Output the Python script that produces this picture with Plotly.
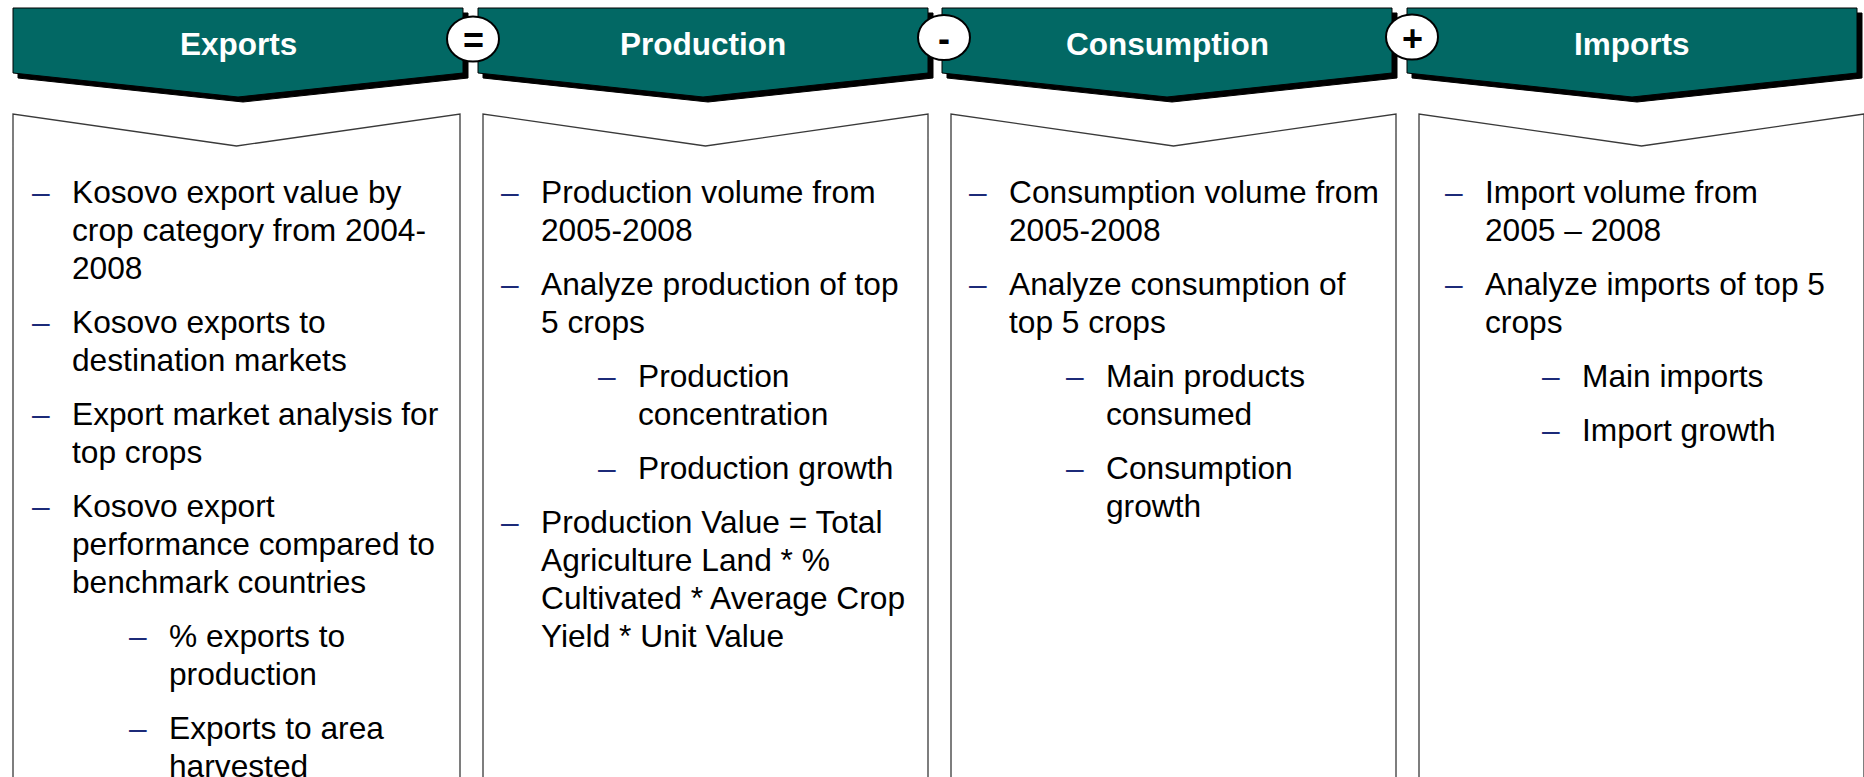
import plotly.graph_objects as go

# ---------------- content ----------------
headers = ["Exports", "Production", "Consumption", "Imports"]
operators = ["=", "-", "+"]

exports_items = [
    (0, ["Kosovo export value by", "crop category from 2004-", "2008"]),
    (0, ["Kosovo exports to", "destination markets"]),
    (0, ["Export market analysis for", "top crops"]),
    (0, ["Kosovo export", "performance compared to", "benchmark countries"]),
    (1, ["% exports to", "production"]),
    (1, ["Exports to area", "harvested"]),
]
production_items = [
    (0, ["Production volume from", "2005-2008"]),
    (0, ["Analyze production of top", "5 crops"]),
    (1, ["Production", "concentration"]),
    (1, ["Production growth"]),
    (0, ["Production Value = Total", "Agriculture Land * %", "Cultivated * Average Crop", "Yield * Unit Value"]),
]
consumption_items = [
    (0, ["Consumption volume from", "2005-2008"]),
    (0, ["Analyze consumption of", "top 5 crops"]),
    (1, ["Main products", "consumed"]),
    (1, ["Consumption", "growth"]),
]
imports_items = [
    (0, ["Import volume from", "2005 \u2013 2008"]),
    (0, ["Analyze imports of top 5", "crops"]),
    (1, ["Main imports"]),
    (1, ["Import growth"]),
]
columns = [exports_items, production_items, consumption_items, imports_items]

# ---------------- geometry / style ----------------
W, H = 1864, 777
TEAL = "#026864"
NAVY = "#1c2a78"
FONT = "Liberation Sans, Arial, Helvetica, sans-serif"

banner_left = [13, 478, 942, 1407]
banner_w = 450
banner_top, banner_side, banner_tip = 8, 73, 97
shadow = 5

box_left = [13, 483, 951, 1419]
box_right = [460, 928, 1396, 1864]
box_top, box_notch = 114, 146

circle_c = [(473, 39), (944, 37.5), (1412, 37)]
circle_rx, circle_ry = 26, 22.5

text_x = [70, 539, 1007, 1483]
dash_off = 40
sub_indent = 97
first_base = 202.5
line_step = 38.1
item_step = 54
body_size = 31.7
head_size = 31.5
op_size = 36

fig = go.Figure()
fig.add_trace(go.Scatter(x=[0, W], y=[0, H], mode="markers",
                         marker=dict(opacity=0), hoverinfo="skip", showlegend=False))

shapes = []
annotations = []


def poly(pts, closed=True):
    d = "M " + " L ".join(f"{x},{y}" for x, y in pts)
    return d + (" Z" if closed else "")


# banners
for i, name in enumerate(headers):
    L = banner_left[i]
    R = L + banner_w
    cx = (L + R) / 2
    pts = [(L, banner_top), (R, banner_top), (R, banner_side), (cx, banner_tip), (L, banner_side)]
    sh = [(x + shadow, y + shadow) for x, y in pts]
    shapes.append(dict(type="path", path=poly(sh), xref="x", yref="y",
                       fillcolor="black", line=dict(color="black", width=1)))
    shapes.append(dict(type="path", path=poly(pts), xref="x", yref="y",
                       fillcolor=TEAL, line=dict(color="black", width=1)))
    annotations.append(dict(x=cx, y=44, xref="x", yref="y", text=f"<b>{name}</b>",
                            showarrow=False, xanchor="center", yanchor="middle",
                            font=dict(family=FONT, size=head_size, color="white")))

# boxes
for i in range(4):
    L, R = box_left[i], box_right[i]
    cx = (L + R) / 2
    pts = [(L, H + 20), (L, box_top), (cx, box_notch), (R, box_top), (R, H + 20)]
    shapes.append(dict(type="path", path=poly(pts, closed=False), xref="x", yref="y",
                       fillcolor="rgba(0,0,0,0)", line=dict(color="#3a3a3a", width=1.3)))

# operator circles
for (cx, cy), op in zip(circle_c, operators):
    shapes.append(dict(type="circle", xref="x", yref="y",
                       x0=cx - circle_rx, x1=cx + circle_rx, y0=cy - circle_ry, y1=cy + circle_ry,
                       fillcolor="white", line=dict(color="black", width=2)))
    annotations.append(dict(x=cx, y=cy + 1, xref="x", yref="y", text=f"<b>{op}</b>",
                            showarrow=False, xanchor="center", yanchor="middle",
                            font=dict(family=FONT, size=op_size, color="black")))

# bullet text
mid = 0.3465 * body_size
for ci, items in enumerate(columns):
    base = first_base
    for k, (level, lines) in enumerate(items):
        if k > 0:
            base += item_step
        tx = text_x[ci] + level * sub_indent
        annotations.append(dict(x=tx - dash_off, y=base - mid, xref="x", yref="y", text="\u2013",
                                showarrow=False, xanchor="left", yanchor="middle",
                                font=dict(family=FONT, size=body_size, color=NAVY)))
        for j, ln in enumerate(lines):
            if j > 0:
                base += line_step
            annotations.append(dict(x=tx, y=base - mid, xref="x", yref="y", text=ln,
                                    showarrow=False, xanchor="left", yanchor="middle",
                                    font=dict(family=FONT, size=body_size, color="black")))

fig.update_layout(
    width=W, height=H,
    margin=dict(l=0, r=0, t=0, b=0),
    paper_bgcolor="white", plot_bgcolor="white",
    xaxis=dict(range=[0, W], visible=False, fixedrange=True),
    yaxis=dict(range=[H, 0], visible=False, fixedrange=True),
    shapes=shapes, annotations=annotations,
    showlegend=False,
)
fig.write_html(
    "out.html",
    config={"displayModeBar": False},
    post_script="document.body.style.margin='0';document.body.style.overflow='hidden';",
)
